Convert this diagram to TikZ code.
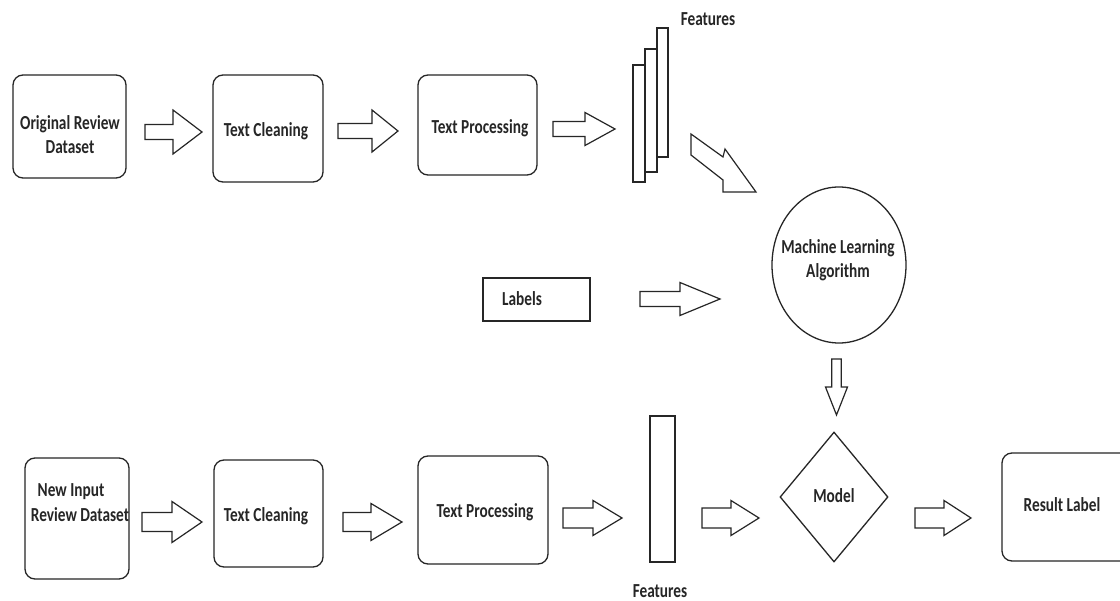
\documentclass[tikz,border=0pt]{standalone}
\usepackage{fontspec}
\usepackage{graphicx}
\setmainfont{Carlito}
\usetikzlibrary{shapes.geometric}
\newcommand\tx[1]{\scalebox{1}[1.3]{#1}}
\begin{document}
\begin{tikzpicture}[x=1pt,y=-1pt,
  line/.style={draw=black!85,line width=1.3pt},
  rbox/.style={line, rounded corners=10pt, inner sep=0pt, align=center},
  sbox/.style={line, inner sep=0pt},
  txt/.style={font=\fontsize{15.3}{24}\selectfont\bfseries, text=black!85, align=center, inner sep=0pt},
  arrline/.style={draw=black!85, line width=1.2pt, line join=miter, fill=white},
  pics/barrow/.style args={#1/#2/#3/#4}{code={%
    \draw[arrline] (0,-#3) -- (#1-#2,-#3) -- (#1-#2,-#4) -- (#1,0) -- (#1-#2,#4) -- (#1-#2,#3) -- (0,#3) -- cycle;}}
]
\fill[white] (0,0) rectangle (1120,601);
\useasboundingbox (0,0) rectangle (1120,601);

% ---------- top row ----------
\node[rbox, minimum width=113pt, minimum height=103pt] (orig) at (69.5,126.5) {};
\node[txt] (origtxt) at (70,135) {\tx{Original Review}\\\tx{Dataset}};
\node[rbox, minimum width=110pt, minimum height=107pt] (clean1) at (268,128.5) {};
\node[txt] (clean1txt) at (266,131) {\tx{Text Cleaning}};
\node[rbox, minimum width=119pt, minimum height=100pt] (proc1) at (477.5,125) {};
\node[txt] (proc1txt) at (480,128) {\tx{Text Processing}};

\pic at (145,132) {barrow=57/29/7.5/22};
\pic at (338,131) {barrow=60/26/7.5/21};
\pic at (553,129) {barrow=62/30/7.5/16.5};

% feature stack
\node[sbox, minimum width=12pt, minimum height=117pt] (f1) at (639,123.5) {};
\node[sbox, minimum width=12pt, minimum height=123pt] (f2) at (651,110.5) {};
\node[sbox, minimum width=11pt, minimum height=129pt] (f3) at (662.5,92.5) {};
\node[txt] (feat1) at (708,19) {\tx{Features}};

% diagonal arrow
\draw[arrline] (691,134) -- (723,157) -- (725,149) -- (756,192) -- (723,192) -- (723,180) -- (691,155) -- cycle;

% machine learning algorithm
\node[line, ellipse, inner sep=0pt, minimum width=134pt, minimum height=156pt] (mla) at (839,265) {};
\node[txt] (mlatxt) at (838,260) {\tx{Machine Learning}\\\tx{Algorithm}};

% labels
\node[sbox, minimum width=107pt, minimum height=43pt] (labels) at (536.5,299.5) {};
\node[txt] (labelstxt) at (522,299) {\tx{Labels}};
\pic at (640,299) {barrow=80/40/7.5/16.5};

% down arrow
\pic[rotate=-90] at (836.5,359) {barrow=56/28/4.7/11};

% ---------- bottom row ----------
\node[rbox, minimum width=104pt, minimum height=121pt] (newin) at (77,518.5) {};
\node[txt] (ni1) at (71,492) {\tx{New Input}};
\node[txt] (ni2) at (80,515) {\tx{Review Dataset}};

\node[rbox, minimum width=109pt, minimum height=107pt] (clean2) at (268.5,513.5) {};
\node[txt] (clean2txt) at (266,516) {\tx{Text Cleaning}};
\node[rbox, minimum width=130pt, minimum height=108pt] (proc2) at (483,510) {};
\node[txt] (proc2txt) at (485,512) {\tx{Text Processing}};

\pic at (142,522) {barrow=60/30/9.5/20.5};
\pic at (343,522) {barrow=59/31/9.5/18.5};
\pic at (563,518) {barrow=59/29/10/17.5};

\node[sbox, minimum width=25pt, minimum height=146pt] (fbar) at (662.5,489) {};
\node[txt] (feat2) at (660,591) {\tx{Features}};

\pic at (702,518) {barrow=57/28/10/17.5};

\node[line, diamond, aspect=0.83, inner sep=0pt, minimum width=108pt, minimum height=130pt] (model) at (834,497) {};
\node[txt] (modeltxt) at (834,496) {\tx{Model}};

\pic at (915,518) {barrow=56/27/10/17.5};

\draw[line, rounded corners=10pt] (1121,453) -- (1002,453) -- (1002,561) -- (1121,561);
\node[txt] (result) at (1062,505) {\tx{Result Label}};
\end{tikzpicture}
\end{document}
